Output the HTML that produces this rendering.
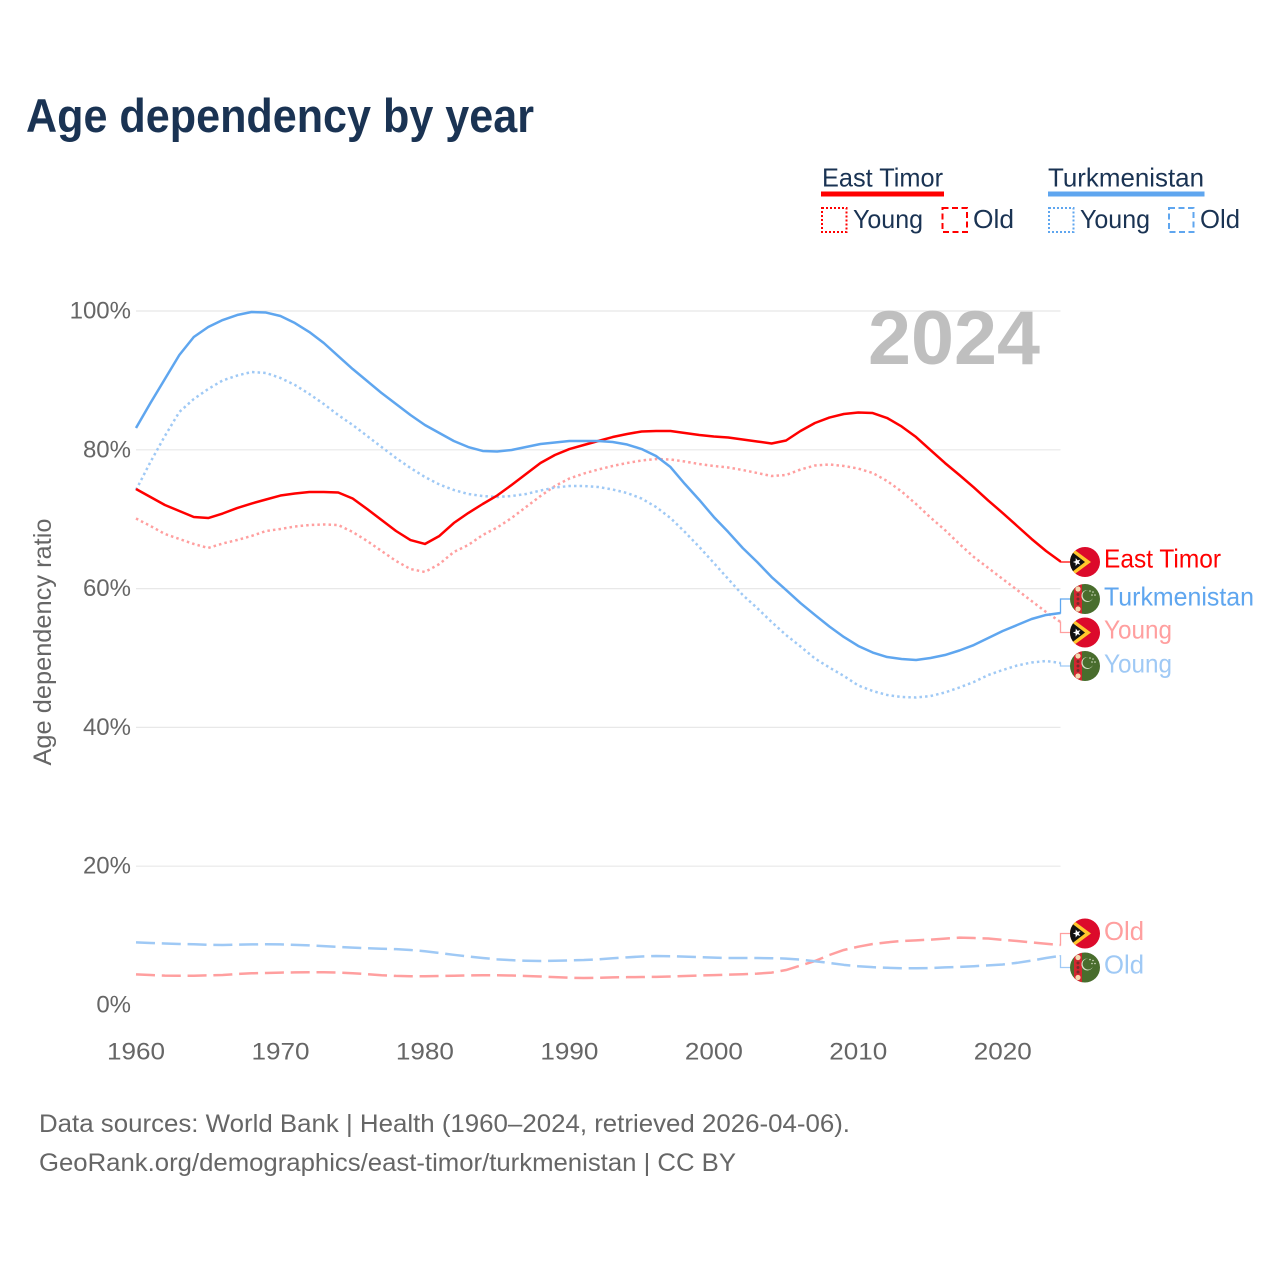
<!DOCTYPE html>
<html lang="en">
<head>
<meta charset="utf-8">
<title>Age dependency by year</title>
<style>
html,body{margin:0;padding:0;background:#fff;}
svg{display:block;font-family:"Liberation Sans",sans-serif;}
</style>
</head>
<body>
<svg id="chart" xmlns="http://www.w3.org/2000/svg" width="1280" height="1280" viewBox="0 0 1280 1280">
  <rect x="0" y="0" width="1280" height="1280" fill="#fff"/>
  <text x="26" y="132" font-size="47" font-weight="bold" fill="#1a3353" textLength="508" lengthAdjust="spacingAndGlyphs">Age dependency by year</text>

  <g font-size="26" fill="#1a3353">
    <text x="822" y="186.5" textLength="121" lengthAdjust="spacingAndGlyphs">East Timor</text>
    <rect x="821" y="191.5" width="123" height="5" fill="#ff0000"/>
    <rect x="822" y="208" width="24.5" height="24" fill="none" stroke="#ff0000" stroke-width="2" stroke-dasharray="2 2"/>
    <text x="853" y="228" textLength="70" lengthAdjust="spacingAndGlyphs">Young</text>
    <rect x="942.5" y="208" width="24.5" height="24" fill="none" stroke="#ff0000" stroke-width="2" stroke-dasharray="6 3.5"/>
    <text x="973" y="228" textLength="41" lengthAdjust="spacingAndGlyphs">Old</text>
    <text x="1048" y="186.5" textLength="156" lengthAdjust="spacingAndGlyphs">Turkmenistan</text>
    <rect x="1048" y="191.5" width="156.5" height="5" fill="#5fa6ef"/>
    <rect x="1049" y="208" width="24.5" height="24" fill="none" stroke="#5fa6ef" stroke-width="2" stroke-dasharray="2 2"/>
    <text x="1080" y="228" textLength="70" lengthAdjust="spacingAndGlyphs">Young</text>
    <rect x="1169" y="208" width="24.5" height="24" fill="none" stroke="#5fa6ef" stroke-width="2" stroke-dasharray="6 3.5"/>
    <text x="1200" y="228" textLength="40" lengthAdjust="spacingAndGlyphs">Old</text>
  </g>

  <g id="grid"></g>
  <g id="yticks" font-size="24" fill="#666" text-anchor="end"></g>
  <g id="xticks" font-size="24" fill="#666" text-anchor="middle"></g>
  <text transform="translate(51,642) rotate(-90)" text-anchor="middle" font-size="25" fill="#666" textLength="247" lengthAdjust="spacingAndGlyphs">Age dependency ratio</text>
  <text x="1040" y="364" text-anchor="end" font-size="76" font-weight="bold" fill="#bfbfbf" textLength="172" lengthAdjust="spacingAndGlyphs">2024</text>

  <g id="lines" fill="none"></g>
  <g id="connectors" fill="none"></g>
  <g id="flags"></g>

  <g font-size="26">
    <text x="1104" y="567.5" fill="#ff0000" textLength="117" lengthAdjust="spacingAndGlyphs">East Timor</text>
    <text x="1104" y="605.5" fill="#5fa6ef" textLength="150" lengthAdjust="spacingAndGlyphs">Turkmenistan</text>
    <text x="1104" y="638.5" fill="#ff9f9f" textLength="68" lengthAdjust="spacingAndGlyphs">Young</text>
    <text x="1104" y="672.5" fill="#9fc9f5" textLength="68" lengthAdjust="spacingAndGlyphs">Young</text>
    <text x="1104" y="940" fill="#ff9f9f" textLength="40" lengthAdjust="spacingAndGlyphs">Old</text>
    <text x="1104" y="973.5" fill="#9fc9f5" textLength="40" lengthAdjust="spacingAndGlyphs">Old</text>
  </g>

  <g font-size="25" fill="#666">
    <text x="39" y="1132" textLength="811" lengthAdjust="spacingAndGlyphs">Data sources: World Bank | Health (1960–2024, retrieved 2026-04-06).</text>
    <text x="39" y="1171" textLength="697" lengthAdjust="spacingAndGlyphs">GeoRank.org/demographics/east-timor/turkmenistan | CC BY</text>
  </g>
</svg>

<script>
var firstYear = 1960;
var lastYear = 2024;
var xTickYears = [1960, 1970, 1980, 1990, 2000, 2010, 2020];
var yTickValues = [0, 20, 40, 60, 80, 100];
var yGridValues = [20, 40, 60, 80, 100];

var eastTimorTotal = [74.35,73.20,72.05,71.18,70.32,70.17,70.82,71.61,72.26,72.84,73.41,73.70,73.92,73.92,73.85,72.98,71.47,69.88,68.30,67.00,66.43,67.58,69.45,70.89,72.19,73.41,74.93,76.51,78.10,79.25,80.11,80.69,81.27,81.84,82.28,82.64,82.71,82.71,82.42,82.13,81.91,81.77,81.48,81.20,80.91,81.34,82.71,83.86,84.65,85.16,85.37,85.30,84.58,83.36,81.84,79.97,78.10,76.37,74.57,72.69,70.89,69.02,67.15,65.42,63.90];
var eastTimorYoung = [70.10,69.02,67.87,67.15,66.43,65.85,66.50,67.00,67.58,68.30,68.59,68.95,69.16,69.24,69.16,68.16,66.86,65.42,63.98,62.82,62.39,63.54,65.27,66.28,67.72,68.80,70.17,71.76,73.34,74.78,75.86,76.58,77.16,77.67,78.10,78.46,78.67,78.60,78.31,77.95,77.67,77.45,77.09,76.66,76.22,76.37,77.16,77.74,77.88,77.67,77.30,76.66,75.50,73.99,72.19,70.24,68.44,66.43,64.55,62.97,61.38,59.80,58.21,56.63,55.19];
var eastTimorOld = [4.42,4.32,4.24,4.22,4.22,4.27,4.32,4.47,4.57,4.61,4.67,4.70,4.71,4.71,4.67,4.58,4.44,4.29,4.19,4.15,4.14,4.18,4.22,4.27,4.28,4.28,4.25,4.18,4.11,4.01,3.93,3.89,3.92,3.98,4.01,4.03,4.06,4.11,4.18,4.25,4.31,4.37,4.44,4.52,4.67,5.04,5.68,6.34,7.20,7.93,8.40,8.79,9.03,9.22,9.32,9.42,9.57,9.70,9.65,9.58,9.39,9.22,9.01,8.82,8.65];
var turkmenistanTotal = [83.14,86.74,90.20,93.66,96.25,97.69,98.70,99.42,99.86,99.78,99.28,98.27,96.97,95.39,93.51,91.64,89.91,88.18,86.60,85.01,83.57,82.42,81.27,80.40,79.83,79.75,79.97,80.40,80.84,81.05,81.27,81.27,81.27,81.12,80.76,80.11,79.11,77.52,75.07,72.77,70.32,68.15,65.85,63.83,61.67,59.80,57.92,56.20,54.54,53.03,51.73,50.79,50.14,49.86,49.71,50.00,50.43,51.08,51.87,52.88,53.89,54.75,55.62,56.20,56.48];
var turkmenistanYoung = [74.21,78.24,81.99,85.45,87.32,88.76,89.99,90.70,91.21,91.07,90.35,89.34,88.04,86.60,85.01,83.57,81.99,80.40,78.82,77.38,76.08,75.00,74.21,73.63,73.34,73.20,73.34,73.63,74.13,74.57,74.78,74.78,74.64,74.28,73.77,72.98,71.76,70.17,68.15,65.99,63.69,61.38,59.08,57.20,55.19,53.31,51.66,49.93,48.63,47.41,46.04,45.24,44.67,44.38,44.31,44.52,45.03,45.75,46.54,47.55,48.27,48.92,49.35,49.57,49.28];
var turkmenistanOld = [9.03,8.93,8.86,8.79,8.75,8.67,8.65,8.69,8.73,8.75,8.73,8.67,8.60,8.49,8.36,8.27,8.18,8.11,8.05,7.93,7.74,7.49,7.23,7.00,6.77,6.58,6.46,6.38,6.34,6.37,6.43,6.48,6.58,6.73,6.87,6.99,7.06,7.03,6.97,6.89,6.82,6.77,6.77,6.77,6.74,6.69,6.54,6.31,6.05,5.79,5.59,5.45,5.36,5.30,5.29,5.33,5.42,5.48,5.59,5.71,5.84,6.08,6.40,6.77,7.10];

var NS = 'http://www.w3.org/2000/svg';
function xScale(year) { return 136 + (year - firstYear) * (1060.5 - 136) / (lastYear - firstYear); }
function yScale(value) { return 1005 - value * 6.94; }
function make(tag, parent, attrs) {
  var el = document.createElementNS(NS, tag);
  for (var k in attrs) { el.setAttribute(k, attrs[k]); }
  parent.appendChild(el);
  return el;
}

var gridGroup = document.getElementById('grid');
yGridValues.forEach(function (v) {
  var line = make('line', gridGroup, { x1: 136, x2: 1060.5, y1: yScale(v), y2: yScale(v), stroke: '#e8e8e8', 'stroke-width': 1.2 });
  
  
});

var yTickGroup = document.getElementById('yticks');
yTickValues.forEach(function (v) {
  var t = make('text', yTickGroup, { x: 131, y: yScale(v) + 7.5 });
  t.textContent = v + '%';
  
  
});

var xTickGroup = document.getElementById('xticks');
xTickYears.forEach(function (yr) {
  var t = make('text', xTickGroup, { x: xScale(yr), y: 1059.5, textLength: 58, lengthAdjust: 'spacingAndGlyphs' });
  t.textContent = yr;
  
  
});

var RED = '#ff0000', BLUE = '#5fa6ef', PINK = '#ff9f9f', SKY = '#9fc9f5';
var DOTTED = '2.5 3.1', DASHED = '19 6.8';
var lineGroup = document.getElementById('lines');
var connectorGroup = document.getElementById('connectors');

function drawSeries(values, color, dash, name) {
  var d = values.map(function (v, i) {
    return (i ? 'L' : 'M') + xScale(firstYear + i).toFixed(2) + ' ' + yScale(v).toFixed(2);
  }).join('');
  var attrs = { d: d, stroke: color, 'stroke-width': 2.5, 'stroke-linejoin': 'round' };
  if (dash) { attrs['stroke-dasharray'] = dash; }
  var p = make('path', lineGroup, attrs);
  
  
}
function drawConnector(values, flagY, color, name) {
  var endX = xScale(lastYear);
  var endY = yScale(values[values.length - 1]);
  var p = make('path', connectorGroup, { d: 'M' + (endX - 1) + ' ' + endY + 'L' + endX + ' ' + endY + 'V' + flagY + 'H1070', stroke: color, 'stroke-width': 1.3 });
  
  
}

drawSeries(eastTimorOld, PINK, DASHED, 'line-east-timor-old');
drawSeries(turkmenistanOld, SKY, DASHED, 'line-turkmenistan-old');
drawSeries(eastTimorYoung, PINK, DOTTED, 'line-east-timor-young');
drawSeries(turkmenistanYoung, SKY, DOTTED, 'line-turkmenistan-young');
drawSeries(eastTimorTotal, RED, null, 'line-east-timor-total');
drawSeries(turkmenistanTotal, BLUE, null, 'line-turkmenistan-total');

drawConnector(eastTimorTotal, 562, RED, 'connector-east-timor-total');
drawConnector(turkmenistanTotal, 599, BLUE, 'connector-turkmenistan-total');
drawConnector(eastTimorYoung, 632.5, PINK, 'connector-east-timor-young');
drawConnector(turkmenistanYoung, 666, SKY, 'connector-turkmenistan-young');
drawConnector(eastTimorOld, 933.5, PINK, 'connector-east-timor-old');
drawConnector(turkmenistanOld, 967.5, SKY, 'connector-turkmenistan-old');

var flagGroup = document.getElementById('flags');
var clipCount = 0;
function flagBase(cy, name) {
  clipCount += 1;
  var id = 'flag-clip-' + clipCount;
  var clip = make('clipPath', flagGroup, { id: id });
  make('circle', clip, { cx: 1085, cy: cy, r: 15 });
  var g = make('g', flagGroup, { 'clip-path': 'url(#' + id + ')' });
  
  
  return g;
}
function eastTimorFlag(cy, name) {
  var g = flagBase(cy, name);
  make('rect', g, { x: 1070, y: cy - 15, width: 30, height: 30, fill: '#dc0a2b' });
  make('path', g, { d: 'M1068 ' + (cy - 17) + 'L1091 ' + cy + 'L1068 ' + (cy + 17) + 'Z', fill: '#ffc72c' });
  make('path', g, { d: 'M1068 ' + (cy - 13) + 'L1085 ' + cy + 'L1068 ' + (cy + 13) + 'Z', fill: '#111' });
  var s = [];
  for (var i = 0; i < 10; i++) {
    var a = -Math.PI / 2 + i * Math.PI / 5 - 0.3;
    var r = i % 2 ? 1.7 : 4.2;
    s.push((1077 + r * Math.cos(a)).toFixed(2) + ',' + (cy + r * Math.sin(a)).toFixed(2));
  }
  make('polygon', g, { points: s.join(' '), fill: '#fff' });
}
function turkmenistanFlag(cy, name) {
  var g = flagBase(cy, name);
  make('rect', g, { x: 1070, y: cy - 15, width: 30, height: 30, fill: '#496d2d' });
  make('rect', g, { x: 1074, y: cy - 15, width: 8, height: 30, fill: '#d22630' });
  [-10, 10].forEach(function (o) {
    make('circle', g, { cx: 1078, cy: cy + o, r: 2.6, fill: '#f4d9b0' });
  });
  [-4.5, 0, 4.5].forEach(function (o) {
    make('circle', g, { cx: 1078, cy: cy + o, r: 1.5, fill: '#7a2a2a' });
  });
  make('path', g, { d: 'M1088 ' + (cy - 9) + 'A5.5 5.5 0 1 0 1093 ' + (cy - 1) + 'A6 6 0 1 1 1088 ' + (cy - 9) + 'Z', fill: '#d5dfc5' });
  [[1090, -8], [1093, -7], [1095, -4], [1092, -4]].forEach(function (pt) {
    make('circle', g, { cx: pt[0], cy: cy + pt[1], r: 0.8, fill: '#d5dfc5' });
  });
}
eastTimorFlag(562, 'flag-east-timor-total');
turkmenistanFlag(599, 'flag-turkmenistan-total');
eastTimorFlag(632.5, 'flag-east-timor-young');
turkmenistanFlag(666, 'flag-turkmenistan-young');
eastTimorFlag(933.5, 'flag-east-timor-old');
turkmenistanFlag(967.5, 'flag-turkmenistan-old');
</script>
</body>
</html>
